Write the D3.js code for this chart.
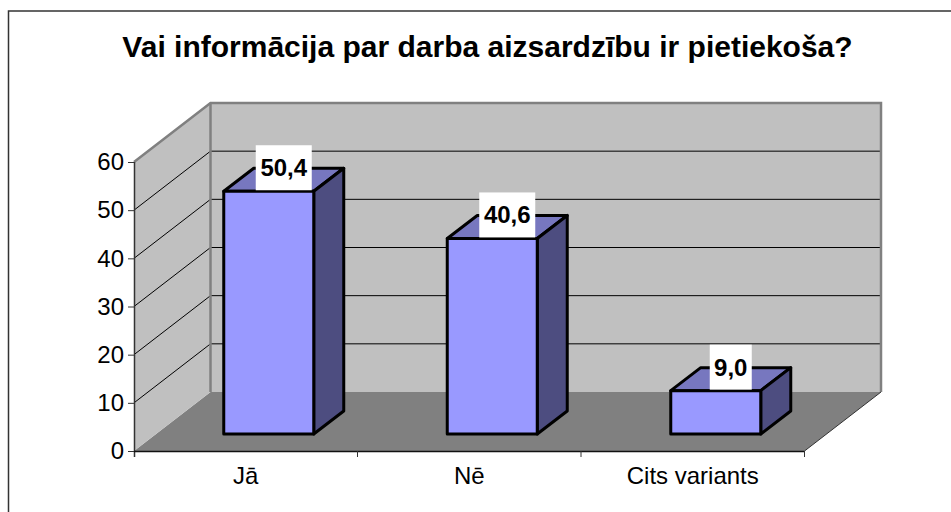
<!DOCTYPE html>
<html lang="lv">
<head>
<meta charset="UTF-8">
<title>Darba aizsardzība</title>
<script src="https://d3js.org/d3.v7.min.js"></script>
<style>
    html, body { margin: 0; padding: 0; background: #fff; }
    svg { display: block; }
    text { font-family: "Liberation Sans", Arial, sans-serif; fill: #000; }
</style>
</head>
<body>
<script>
const titleText = "Vai informācija par darba aizsardzību ir pietiekoša?";
const categories = ["Jā", "Nē", "Cits variants"];
const values = [50.4, 40.6, 9.0];
const yTicks = [0, 10, 20, 30, 40, 50, 60];

const width = 951, height = 512;
const svg = d3.select("body").append("svg").attr("width", width).attr("height", height);

// outer frame, it runs off the right and bottom of the picture
svg.append("path").attr("d", "M8.5,512V11H951").attr("fill", "none").attr("stroke", "#333").attr("stroke-width", 1.5);

svg.append("text").attr("x", 487.5).attr("y", 57).attr("text-anchor", "middle")
    .attr("font-size", 30).attr("font-weight", "bold").text(titleText);

// front plane of the 3d box and its depth offset
const x0 = 134, x1 = 804.5;
const x = d3.scaleBand().domain(categories).range([x0, x1]);
const y = d3.scaleLinear().domain([0, 60]).range([451, 162]);
const depth = { dx: 76.5, dy: -59 };
const bar = { w: 90, dx: 30, dy: -23, ox: 23, oy: -17 };
const line = d3.line();

// floor
svg.append("path")
    .attr("d", line([[x0, y(0)], [x0 + depth.dx, y(0) + depth.dy], [x1 + depth.dx, y(0) + depth.dy], [x1, y(0)]]) + "Z")
    .attr("fill", "#808080");

// side wall
svg.append("path")
    .attr("d", line([[x0, y(0)], [x0, y(60)], [x0 + depth.dx, y(60) + depth.dy], [x0 + depth.dx, y(0) + depth.dy]]) + "Z")
    .attr("fill", "#c0c0c0");

// back wall
svg.append("rect").attr("x", x0 + depth.dx).attr("y", y(60) + depth.dy)
    .attr("width", x1 - x0).attr("height", y(0) - y(60)).attr("fill", "#c0c0c0");

// grid lines, back wall and side wall
const gridTicks = yTicks.filter(t => t > 0 && t < 60);
svg.selectAll(".grid-back").data(gridTicks).enter().append("line")
    .attr("class", "grid-back")
    .attr("x1", x0 + depth.dx).attr("x2", x1 + depth.dx)
    .attr("y1", d => y(d) + depth.dy).attr("y2", d => y(d) + depth.dy)
    .attr("stroke", "#000");
svg.selectAll(".grid-side").data(gridTicks).enter().append("line")
    .attr("class", "grid-side")
    .attr("x1", x0).attr("x2", x0 + depth.dx)
    .attr("y1", d => y(d)).attr("y2", d => y(d) + depth.dy)
    .attr("stroke", "#000");

// wall edges
svg.append("path")
    .attr("d", line([[x0, y(60)], [x0 + depth.dx, y(60) + depth.dy], [x1 + depth.dx, y(60) + depth.dy], [x1 + depth.dx, y(0) + depth.dy]]))
    .attr("fill", "none").attr("stroke", "#808080").attr("stroke-width", 2.5);
svg.append("line").attr("x1", x0 + depth.dx).attr("x2", x0 + depth.dx)
    .attr("y1", y(60) + depth.dy).attr("y2", y(0) + depth.dy).attr("stroke", "#808080").attr("stroke-width", 2.5);
// floor right edge
svg.append("line").attr("x1", x1).attr("x2", x1 + depth.dx)
    .attr("y1", y(0)).attr("y2", y(0) + depth.dy).attr("stroke", "#333");

// axes
svg.append("g").attr("transform", `translate(${x0},0)`)
    .call(d3.axisLeft(y).tickValues(yTicks).tickSize(6).tickPadding(4))
    .call(g => g.select(".domain").attr("stroke", "#333").attr("stroke-width", 1.5).attr("d", `M0.5,${y(60)}V${y(0) + 6}`))
    .call(g => g.selectAll("line").attr("stroke", "#333"))
    .call(g => g.selectAll("text").attr("font-size", 24).attr("font-family", null));

const xAxis = svg.append("g").attr("transform", `translate(0,${y(0)})`)
    .call(d3.axisBottom(x).tickSize(0).tickPadding(16));
xAxis.select(".domain").attr("stroke", "#111").attr("stroke-width", 1.5).attr("d", `M${x0},0.5H${x1}`);
xAxis.selectAll("text").attr("font-size", 24).attr("font-family", null);
svg.selectAll(".x-tick").data(d3.range(1, categories.length + 1)).enter().append("line")
    .attr("class", "x-tick")
    .attr("x1", d => x0 + d * x.step()).attr("x2", d => x0 + d * x.step())
    .attr("y1", y(0)).attr("y2", y(0) + 6).attr("stroke", "#333");

// bars
const barX = d => x(d) + x.bandwidth() / 2 + bar.ox - bar.w / 2;
const barBottom = y(0) + bar.oy;
const barTop = v => barBottom - (y(0) - y(v));
const gBars = svg.selectAll(".bar").data(categories).enter().append("g").attr("class", "bar");

gBars.append("path")
    .attr("d", (d, i) => {
        const l = barX(d), t = barTop(values[i]);
        return line([[l, t], [l + bar.dx, t + bar.dy], [l + bar.w + bar.dx, t + bar.dy], [l + bar.w, t]]) + "Z";
    }).attr("fill", "#7777bf");
gBars.append("path")
    .attr("d", (d, i) => {
        const l = barX(d) + bar.w, t = barTop(values[i]);
        return line([[l, t], [l + bar.dx, t + bar.dy], [l + bar.dx, barBottom + bar.dy], [l, barBottom]]) + "Z";
    }).attr("fill", "#4d4d80");
gBars.append("rect")
    .attr("x", barX).attr("y", (d, i) => barTop(values[i]))
    .attr("width", bar.w).attr("height", (d, i) => barBottom - barTop(values[i]))
    .attr("fill", "#9999ff");
gBars.selectAll("path, rect").attr("stroke", "#000").attr("stroke-width", 3).attr("stroke-linejoin", "round");

// value labels on white boxes
const fmt = v => v.toFixed(1).replace(".", ",");
const labelW = [56, 56, 42];
gBars.append("rect")
    .attr("x", (d, i) => barX(d) + bar.w / 2 + 15 - labelW[i] / 2)
    .attr("y", (d, i) => barTop(values[i]) - 46)
    .attr("width", (d, i) => labelW[i]).attr("height", 45).attr("fill", "#fff");
gBars.append("text")
    .attr("x", d => barX(d) + bar.w / 2 + 15)
    .attr("y", (d, i) => barTop(values[i]) - 15)
    .attr("text-anchor", "middle").attr("font-size", 24).attr("font-weight", "bold")
    .text((d, i) => fmt(values[i]));
</script>
</body>
</html>
